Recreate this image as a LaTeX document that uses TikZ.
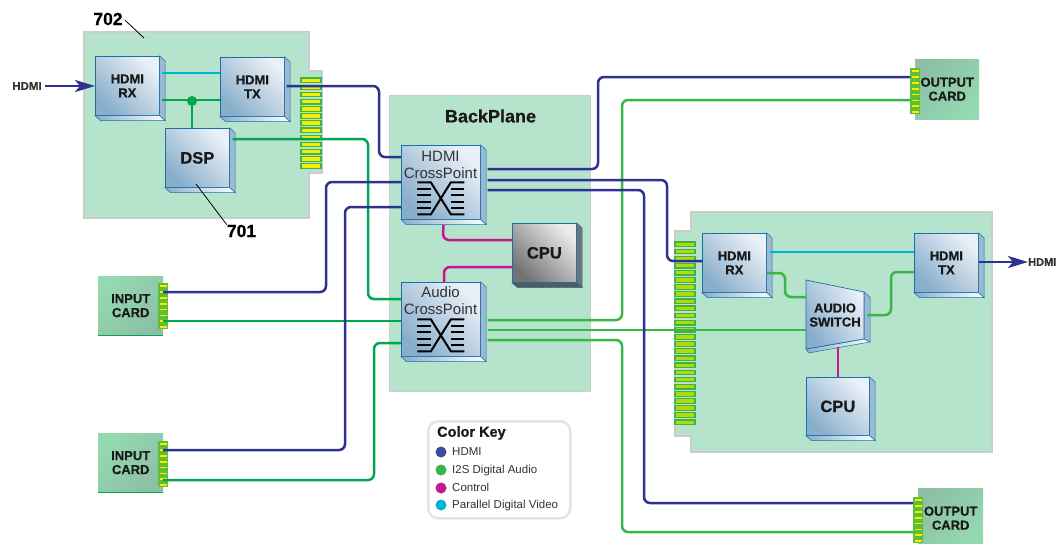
\documentclass[tikz,border=0pt]{standalone}
\usepackage{fontspec}
\setmainfont{Liberation Sans}[BoldFeatures={FakeBold=0.6}]
\usetikzlibrary{arrows.meta}
\definecolor{hdmiblue}{HTML}{2E3192}
\definecolor{audiogreen}{HTML}{39B54A}
\definecolor{dspgreen}{HTML}{00A651}
\definecolor{ctrlpink}{HTML}{C7168F}
\definecolor{videocyan}{HTML}{00B5D0}
\definecolor{panelgreen}{HTML}{B6E3CB}
\definecolor{panelline}{HTML}{C8CFCB}
\definecolor{boxline}{HTML}{1B6FA8}
\definecolor{keyblue}{HTML}{3B4BA0}
\definecolor{boxlight}{HTML}{EAF0F7}
\definecolor{boxdark}{HTML}{88AECB}
\definecolor{cardlight}{HTML}{93DAB0}
\definecolor{carddark}{HTML}{8DBFA5}
\definecolor{fingerlime}{HTML}{B5D80A}
\definecolor{fingeryellow}{HTML}{F7EC00}
\newcommand{\fsize}[1]{\fontsize{#1}{#1}\selectfont}
\tikzset{
  panel/.style={draw=panelline, fill=panelgreen, line width=1.2pt},
  blockbox/.style={draw=boxline, line width=0.7pt, anchor=north west, inner sep=0pt,
    align=center, font=\bfseries\fsize{13}, text=black!90,
    top color=boxlight, bottom color=boxdark, shading angle=-45},
  graybox/.style={blockbox, top color=black!8, bottom color=black!55, shading angle=-45},
  sideface/.style={draw=boxline, line width=0.5pt, fill=boxdark!85!white},
  lowface/.style={draw=boxline, line width=0.5pt, left color=boxdark, right color=white},
  hdmiwire/.style={draw=hdmiblue, line width=2.5pt, rounded corners=6pt},
  hdmiarrow/.style={hdmiwire, -{Stealth[length=20pt, width=12pt, inset=5pt]}},
  audiowire/.style={draw=audiogreen, line width=2.5pt, rounded corners=6pt},
  dspwire/.style={draw=dspgreen, line width=2.5pt, rounded corners=6pt},
  ctrlwire/.style={draw=ctrlpink, line width=2.5pt, rounded corners=6pt},
  videowire/.style={draw=videocyan, line width=2.5pt},
  finger/.style={draw=audiogreen, fill=fingeryellow, line width=1.2pt},
  limefinger/.style={finger, fill=fingerlime},
  stripbox/.style={fill=audiogreen!70!fingerlime, anchor=north west, inner sep=0pt, minimum width=10pt, minimum height=46pt},
  cardbox/.style={anchor=north west, inner sep=0pt, minimum width=65pt, minimum height=59pt,
    align=center, font=\bfseries\fsize{13}, text=black!90, top color=carddark, bottom color=cardlight},
  numlabel/.style={font=\bfseries\fsize{17.5}, inner sep=0pt},
  keydot/.style={circle, minimum size=11pt, inner sep=0pt},
}
% side and bottom faces of a block
\newcommand{\boxfaces}[1]{
  \draw [sideface] (#1.north east) -- ++(5.5,5) -- ([shift={(5.5,5)}]#1.south east) -- (#1.south east) -- cycle;
  \draw [lowface] (#1.south west) -- ++(5.5,5) -- ([shift={(5.5,5)}]#1.south east) -- (#1.south east) -- cycle;
}
% crossbar symbol below the text of a crosspoint
\newcommand{\crossbar}[1]{
  \begin{scope}[shift={(#1.center)}, line width=2pt]
    \foreach \yy in {-9.5,-3.2,3.2,9.5} {
      \draw (-23.5,{16+\yy}) -- (-10,{16+\yy});
      \draw (23.5,{16+\yy}) -- (10,{16+\yy});
    }
    \foreach \yy in {-16,16} {
      \draw (-23.5,{16+\yy}) -- (-10,{16+\yy}) -- (10,{16-\yy}) -- (23.5,{16-\yy});
    }
  \end{scope}
}
% short connector of an input or output card
\newcommand{\shortstrip}[3]{
  \node [stripbox] (#1) at (#2,#3) {};
  \foreach \ii in {0,...,7} {
    \fill [fingeryellow] ({#2+1.5},{#3+2+\ii*5.9}) rectangle ++(7.5,1.8);
  }
}
\begin{document}
\begin{tikzpicture}[x=1pt, y=-1pt]
\useasboundingbox (0,0) rectangle (1056,543);
\clip (0,0) rectangle (1056,543);

% panels
\draw [panel] (84,32) -- (309,32) -- (309,71) -- (322,71) -- (322,173) -- (309,173) -- (309,218) -- (84,218) -- cycle;
\draw [panel] (691,212) -- (992,212) -- (992,452) -- (691,452) -- (691,436) -- (675,436) -- (675,231) -- (691,231) -- cycle;
\node [panel, anchor=north west, minimum width=201pt, minimum height=296pt, inner sep=0pt] (backplane) at (389,95) {};
\node [font=\bfseries\fsize{18}, text=black!90, inner sep=0pt] (backtext) at (490.5,116) {BackPlane};

% edge connectors
\foreach \ii in {0,...,12} {
  \filldraw [finger] (301,{78+7.14*\ii}) rectangle ++(20,4.6);
}
\foreach \ii in {0,...,25} {
  \filldraw [limefinger] (675,{242+7.12*\ii}) rectangle ++(20,4.6);
}

% left card
\node [blockbox, minimum width=64pt, minimum height=59pt] (rxa) at (95,56) {HDMI\\[1pt]RX};
\boxfaces{rxa}
\node [blockbox, minimum width=64pt, minimum height=59pt] (txa) at (220,57) {HDMI\\[1pt]TX};
\boxfaces{txa}
\node [blockbox, minimum width=64pt, minimum height=59pt, font=\bfseries\fsize{16.5}] (dspa) at (165,128) {DSP};
\boxfaces{dspa}

% backplane
\node [blockbox, minimum width=79pt, minimum height=74pt] (hxp) at (401,145) {};
\boxfaces{hxp}
\node [font=\fsize{15}, align=center, text=black!80, inner sep=0pt] (hxptext) at (440.5,164.5) {HDMI\\[2pt]CrossPoint};
\crossbar{hxp}
\node [graybox, minimum width=64pt, minimum height=59pt, font=\bfseries\fsize{16.5}] (cpua) at (512,223) {CPU};
\draw [draw=boxline, line width=0.5pt, fill=black!55] (cpua.north east) -- ++(5.5,5) -- ([shift={(5.5,5)}]cpua.south east) -- (cpua.south east) -- cycle;
\draw [draw=boxline, line width=0.5pt, fill=black!65] (cpua.south west) -- ++(5.5,5) -- ([shift={(5.5,5)}]cpua.south east) -- (cpua.south east) -- cycle;
\node [blockbox, minimum width=79pt, minimum height=74pt] (axp) at (401,282) {};
\boxfaces{axp}
\node [font=\fsize{15}, align=center, text=black!80, inner sep=0pt] (axptext) at (440.5,300.5) {Audio\\[2pt]CrossPoint};
\crossbar{axp}

% right card
\node [blockbox, minimum width=64pt, minimum height=59pt] (rxb) at (702,233) {HDMI\\[1pt]RX};
\boxfaces{rxb}
\node [blockbox, minimum width=64pt, minimum height=59pt] (txb) at (914,233) {HDMI\\[1pt]TX};
\boxfaces{txb}
\node [blockbox, minimum width=63pt, minimum height=58pt, font=\bfseries\fsize{16.5}] (cpub) at (806,377) {CPU};
\boxfaces{cpub}
\draw [sideface] (864,292) -- (870,297) -- (870,342) -- (864,339) -- cycle;
\draw [lowface] (806,349) -- (808.5,353) -- (870,342) -- (864,339) -- cycle;
\draw [draw=boxline, line width=0.7pt, top color=boxlight, bottom color=boxdark, shading angle=-60]
  (806,280) -- (864,292) -- (864,339) -- (806,349) -- cycle;
\node [minimum width=58pt, minimum height=64pt, inner sep=0pt, align=center, font=\bfseries\fsize{13}, text=black!90] (swa) at (835,315) {AUDIO\\[1pt]SWITCH};

% input and output cards
\node [cardbox, shading angle=-135] (incarda) at (98,276) {INPUT\\[1pt]CARD};
\shortstrip{instripa}{158}{283}
\node [cardbox, shading angle=-135] (incardb) at (98,433) {INPUT\\[1pt]CARD};
\shortstrip{instripb}{158}{441}
\node [cardbox, minimum width=64pt, minimum height=60pt, shading angle=45] (outcarda) at (915,59) {OUTPUT\\[1pt]CARD};
\shortstrip{outstripa}{910}{68}
\node [cardbox, minimum width=65pt, minimum height=60pt, shading angle=45] (outcardb) at (918,488) {OUTPUT\\[1pt]CARD};
\shortstrip{outstripb}{913}{497}
\draw [dspgreen, line width=0.9pt] (incarda.south west) -- (incarda.south east);
\draw [dspgreen, line width=0.9pt] (incardb.south west) -- (incardb.south east);

% audio wires
\node [circle, fill=dspgreen, minimum size=10pt, inner sep=0pt] (joina) at (192,101) {};
\draw [dspwire] (rxa.east |- 0,100) ++(2,0) -- (txa.west |- 0,100);
\draw [dspwire] (joina) -- (joina |- dspa.north);
\draw [dspwire] (dspa.east |- 0,139) ++(3,0) -- (368,139) -- (368,299) -- (axp.west |- 0,299);
\draw [dspwire] (instripa.center |- 0,321) -- (axp.west |- 0,321);
\draw [dspwire] (instripb.center |- 0,480) -- (374,480) -- (374,343) -- (axp.west |- 0,343);
\draw [audiowire] (axp.east |- 0,320) ++(7,0) -- (622,320) -- (622,100) -- (outstripa.west |- 0,100);
\draw [audiowire] (axp.east |- 0,330) ++(7,0) -- (swa.west |- 0,330);
\draw [audiowire] (axp.east |- 0,340) ++(7,0) -- (622,340) -- (622,532) -- (outstripb.west |- 0,532);
\draw [audiowire] (rxb.east |- 0,273) -- (785,273) -- (785,297) -- (swa.west |- 0,297);
\draw [audiowire] (swa.east |- 0,315) ++(3,0) -- (891,315) -- (891,272) -- (txb.west |- 0,272);

% video wires
\draw [videowire] (rxa.east |- 0,73) ++(2,0) -- (txa.west |- 0,73);
\draw [videowire] (rxb.east |- 0,252) ++(3,0) -- (txb.west |- 0,252);

% control wires
\draw [ctrlwire] (hxp.south |- 0,225) ++(2.5,0) -- (443,240) -- (cpua.west |- 0,240);
\draw [ctrlwire] (cpua.west |- 0,267) -- (444,267) -- (444,282);
\draw [ctrlwire, rounded corners=0pt] (cpub.north) -- (cpub.north |- swa.south);

% hdmi wires
\node [font=\bfseries\fsize{11.5}, text=black!80, inner sep=0pt] (hdmiin) at (27,86) {HDMI};
\draw [hdmiarrow] (hdmiin.east) ++(3,0) -- (rxa.west |- hdmiin);
\draw [hdmiwire] (txa.east |- 0,86) ++(2,0) -- (379,86) -- (379,157) -- (hxp.west |- 0,157);
\draw [hdmiwire] (hxp.east |- 0,169) ++(7,0) -- (598,169) -- (598,77) -- (outstripa.west |- 0,77);
\draw [hdmiwire] (hxp.east |- 0,180) ++(7,0) -- (667,180) -- (667,261) -- (rxb.west |- 0,261);
\draw [hdmiwire] (hxp.east |- 0,190) ++(7,0) -- (644,190) -- (644,503) -- (outstripb.west |- 0,503);
\draw [hdmiwire] (instripa.center |- 0,292) -- (326,292) -- (326,182) -- (hxp.west |- 0,182);
\draw [hdmiwire] (instripb.center |- 0,450) -- (345,450) -- (345,207) -- (hxp.west |- 0,207);
\node [font=\bfseries\fsize{11}, text=black!80, anchor=west, inner sep=0pt] (hdmiout) at (1028,262) {HDMI};
\draw [hdmiarrow] (txb.east |- hdmiout) -- (hdmiout.west);

% number labels
\node [numlabel] (lbla) at (108,19) {702};
\coordinate (lblatip) at (144,38);
\draw [line width=0.8pt] (lbla.east) ++(2,1) -- (lblatip);
\node [numlabel] (lblb) at (241.5,231) {701};
\coordinate (lblbtip) at (196,184);
\draw [line width=0.8pt] (lblb.north west) -- (lblbtip);

% color key
\node [draw=blue!8!gray!20, line width=2.5pt, rounded corners=10pt, fill=white, anchor=north west,
  minimum width=142pt, minimum height=97pt, inner sep=0pt] (keybox) at (427,420) {};
\node [font=\bfseries\fsize{14.5}, text=black!90, anchor=west, inner sep=0pt] (keytitle) at (437,433) {Color Key};
\foreach \yy/\cc/\txt/\nm in {452/keyblue/HDMI/a, 470/audiogreen/I2S Digital Audio/b, 488/ctrlpink/Control/c, 505/videocyan/Parallel Digital Video/d} {
  \node [keydot, fill=\cc] (keydot\nm) at (441,\yy) {};
  \node [font=\fsize{11.5}, text=black!80, anchor=base west, inner sep=0pt] (keytext\nm) at (452,\yy+3) {\txt};
}
\end{tikzpicture}
\end{document}
